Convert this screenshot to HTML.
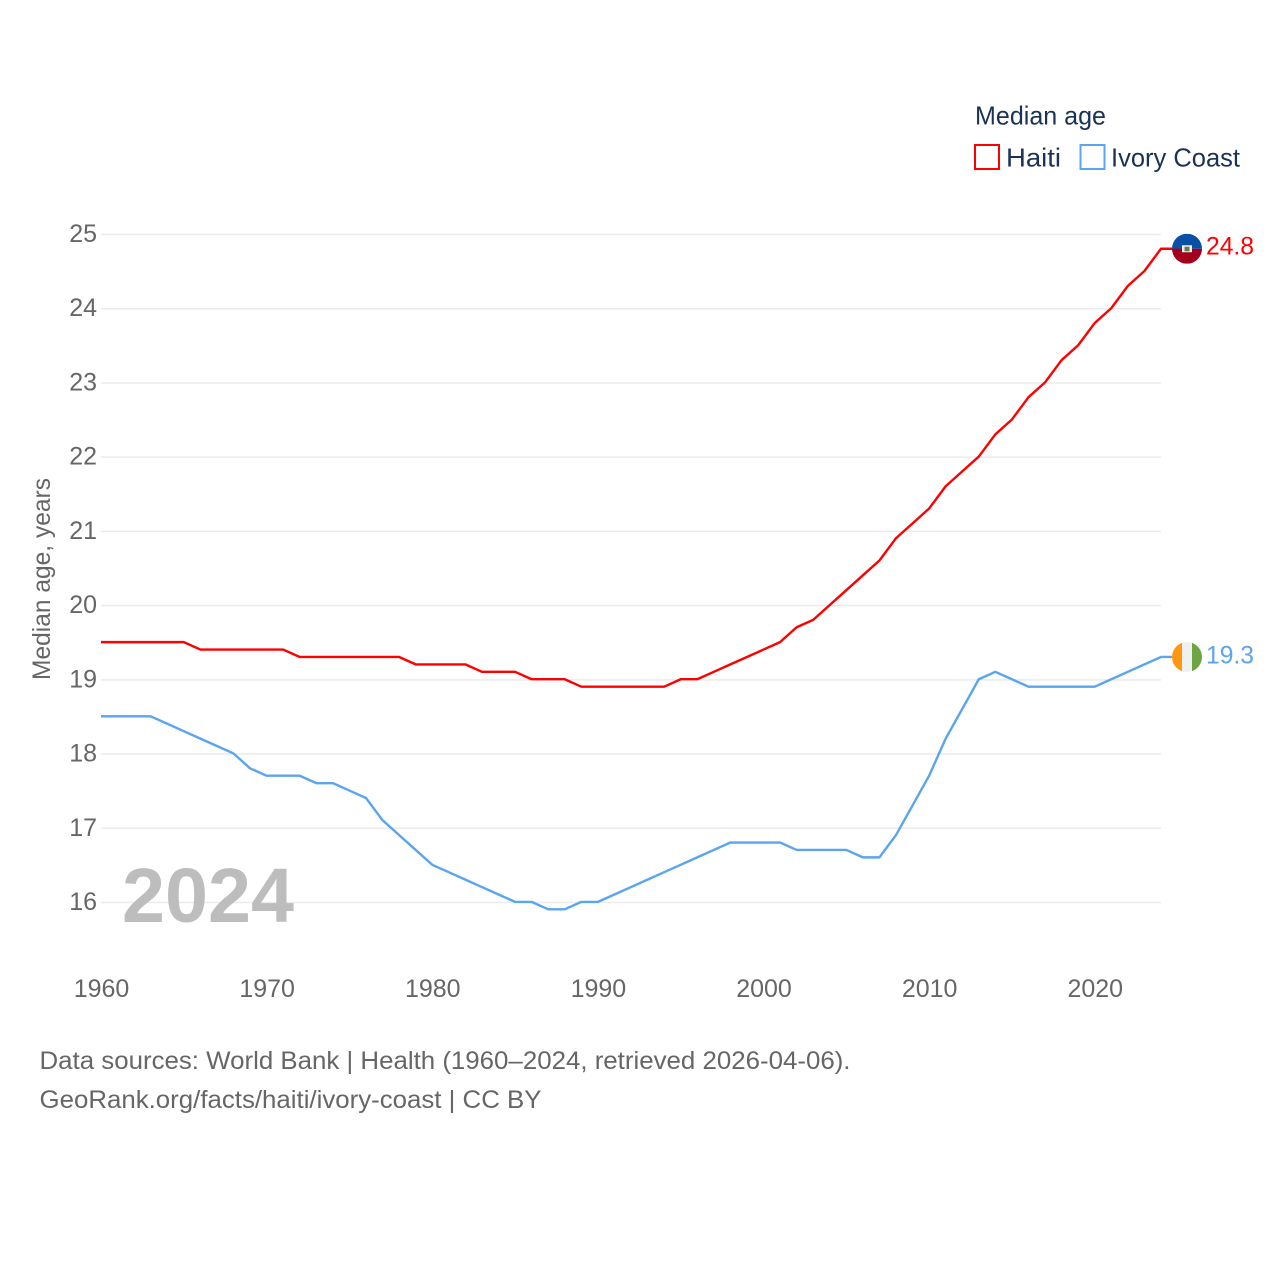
<!DOCTYPE html>
<html lang="en">
<head>
<meta charset="utf-8">
<title>Median age: Haiti and Ivory Coast</title>
<style>
html,body{margin:0;padding:0;background:#fff;}
svg{display:block;}
text{font-family:"Liberation Sans",sans-serif;}
</style>
</head>
<body>
<svg id="chart" xmlns="http://www.w3.org/2000/svg" width="1280" height="1280" viewBox="0 0 1280 1280">
  <rect width="1280" height="1280" fill="#ffffff"/>
  <g id="grid"></g>
  <g id="yticks"></g>
  <g id="xticks"></g>
  <text transform="translate(50,680) rotate(-90)" font-size="25" fill="#666666" textLength="202" lengthAdjust="spacingAndGlyphs">Median age, years</text>
  <text x="122" y="922" font-size="77" font-weight="700" fill="#bdbdbd" textLength="172" lengthAdjust="spacingAndGlyphs">2024</text>
  <g id="series"></g>
  <g>
    <text x="975" y="124.500" font-size="26" fill="#1a3256" textLength="131" lengthAdjust="spacingAndGlyphs">Median age</text>
    <rect x="975" y="145" width="24" height="24" fill="none" stroke="#ff0000" stroke-width="2"/>
    <text x="1006" y="166.500" font-size="26" fill="#1a3256" textLength="55" lengthAdjust="spacingAndGlyphs">Haiti</text>
    <rect x="1080.500" y="145" width="24" height="24" fill="none" stroke="#5ba4ee" stroke-width="2"/>
    <text x="1111" y="166.500" font-size="26" fill="#1a3256" textLength="129" lengthAdjust="spacingAndGlyphs">Ivory Coast</text>
  </g>
  <defs>
    <clipPath id="flag-clip-haiti"><circle cx="0" cy="0" r="15"/></clipPath>
    <clipPath id="flag-clip-ivory"><circle cx="0" cy="0" r="15"/></clipPath>
  </defs>
  <g id="flag-haiti" clip-path="url(#flag-clip-haiti)">
    <rect x="-15" y="-15" width="30" height="15" fill="#0a4fa6"/>
    <rect x="-15" y="0" width="30" height="15" fill="#a2001d"/>
    <rect x="-5" y="-3.500" width="10" height="7" fill="#f0f0f0"/>
    <rect x="-2.500" y="-2" width="5" height="4.500" fill="#5f7f4a"/>
  </g>
  <g id="flag-ivory" clip-path="url(#flag-clip-ivory)">
    <rect x="-15" y="-15" width="10" height="30" fill="#ff9811"/>
    <rect x="-5" y="-15" width="10" height="30" fill="#f0f0f0"/>
    <rect x="5" y="-15" width="10" height="30" fill="#6da544"/>
  </g>
  <text id="value-haiti" x="1206" font-size="25" fill="#ff0000" textLength="48" lengthAdjust="spacingAndGlyphs"></text>
  <text id="value-ivory" x="1206" font-size="25" fill="#5ba4ee" textLength="48" lengthAdjust="spacingAndGlyphs"></text>
  <text x="39.500" y="1069" font-size="25" fill="#666666" textLength="811" lengthAdjust="spacingAndGlyphs">Data sources: World Bank | Health (1960–2024, retrieved 2026-04-06).</text>
  <text x="39.500" y="1108" font-size="25" fill="#666666" textLength="502" lengthAdjust="spacingAndGlyphs">GeoRank.org/facts/haiti/ivory-coast | CC BY</text>
</svg>
<script>
const years = [1960,1961,1962,1963,1964,1965,1966,1967,1968,1969,1970,1971,1972,1973,1974,1975,1976,1977,1978,1979,1980,1981,1982,1983,1984,1985,1986,1987,1988,1989,1990,1991,1992,1993,1994,1995,1996,1997,1998,1999,2000,2001,2002,2003,2004,2005,2006,2007,2008,2009,2010,2011,2012,2013,2014,2015,2016,2017,2018,2019,2020,2021,2022,2023,2024];
const haiti = [19.5,19.5,19.5,19.5,19.5,19.5,19.4,19.4,19.4,19.4,19.4,19.4,19.3,19.3,19.3,19.3,19.3,19.3,19.3,19.2,19.2,19.2,19.2,19.1,19.1,19.1,19.0,19.0,19.0,18.9,18.9,18.9,18.9,18.9,18.9,19.0,19.0,19.1,19.2,19.3,19.4,19.5,19.7,19.8,20.0,20.2,20.4,20.6,20.9,21.1,21.3,21.6,21.8,22.0,22.3,22.5,22.8,23.0,23.3,23.5,23.8,24.0,24.3,24.5,24.8];
const ivoryCoast = [18.5,18.5,18.5,18.5,18.4,18.3,18.2,18.1,18.0,17.8,17.7,17.7,17.7,17.6,17.6,17.5,17.4,17.1,16.9,16.7,16.5,16.4,16.3,16.2,16.1,16.0,16.0,15.9,15.9,16.0,16.0,16.1,16.2,16.3,16.4,16.5,16.6,16.7,16.8,16.8,16.8,16.8,16.7,16.7,16.7,16.7,16.6,16.6,16.9,17.3,17.7,18.2,18.6,19.0,19.1,19.0,18.9,18.9,18.9,18.9,18.9,19.0,19.1,19.2,19.3];
const yTickValues = [16,17,18,19,20,21,22,23,24,25];
const xTickValues = [1960,1970,1980,1990,2000,2010,2020];

const SVG_NS = 'http://www.w3.org/2000/svg';
const PLOT_LEFT = 101, PLOT_RIGHT = 1161, Y_AT_25 = 234.5, Y_AT_16 = 902.5, FLAG_X = 1187, LINE_OFFSET = -0.6;
function xScale(year) {
  return PLOT_LEFT + (year - 1960) * (PLOT_RIGHT - PLOT_LEFT) / (2024 - 1960);
}
function yScale(value) {
  return Y_AT_16 + (value - 16) * (Y_AT_25 - Y_AT_16) / (25 - 16);
}
function create(tag, attrs, parent) {
  const el = document.createElementNS(SVG_NS, tag);
  Object.keys(attrs).forEach(function (k) { el.setAttribute(k, attrs[k]); });
  parent.appendChild(el);
  return el;
}

const gridGroup = document.getElementById('grid');
const yTickGroup = document.getElementById('yticks');
yTickValues.forEach(function (v) {
  const line = create('line', {x1: PLOT_LEFT, x2: PLOT_RIGHT, y1: yScale(v), y2: yScale(v), stroke: '#ebebeb', 'stroke-width': 1.5}, gridGroup);
  
  
  const label = create('text', {x: 97, y: yScale(v) + 7.5, 'text-anchor': 'end', 'font-size': 25, fill: '#666666'}, yTickGroup);
  
  
  label.textContent = String(v);
});

const xTickGroup = document.getElementById('xticks');
xTickValues.forEach(function (year) {
  const label = create('text', {x: xScale(year) + 0.5, y: 997, 'text-anchor': 'middle', 'font-size': 25, fill: '#666666'}, xTickGroup);
  
  
  label.textContent = String(year);
});

function linePoints(values) {
  const pts = values.map(function (v, i) { return xScale(years[i]).toFixed(2) + ',' + (yScale(v) + LINE_OFFSET).toFixed(2); });
  pts.push(FLAG_X + ',' + (yScale(values[values.length - 1]) + LINE_OFFSET).toFixed(2));
  return pts.join(' ');
}
const seriesGroup = document.getElementById('series');
const ivoryLine = create('polyline', {points: linePoints(ivoryCoast), fill: 'none', stroke: '#5ba4ee', 'stroke-width': 2.4, 'stroke-linejoin': 'round'}, seriesGroup);


const haitiLine = create('polyline', {points: linePoints(haiti), fill: 'none', stroke: '#ff0000', 'stroke-width': 2.4, 'stroke-linejoin': 'round'}, seriesGroup);



const lastHaiti = haiti[haiti.length - 1];
const lastIvory = ivoryCoast[ivoryCoast.length - 1];
document.getElementById('flag-haiti').setAttribute('transform', 'translate(' + FLAG_X + ',' + (yScale(lastHaiti) - 0.6) + ')');
document.getElementById('flag-ivory').setAttribute('transform', 'translate(' + FLAG_X + ',' + (yScale(lastIvory) - 0.6) + ')');
const valueHaiti = document.getElementById('value-haiti');
valueHaiti.setAttribute('y', yScale(lastHaiti) + 5);
valueHaiti.textContent = lastHaiti.toFixed(1);
const valueIvory = document.getElementById('value-ivory');
valueIvory.setAttribute('y', yScale(lastIvory) + 6);
valueIvory.textContent = lastIvory.toFixed(1);
</script>
</body>
</html>
